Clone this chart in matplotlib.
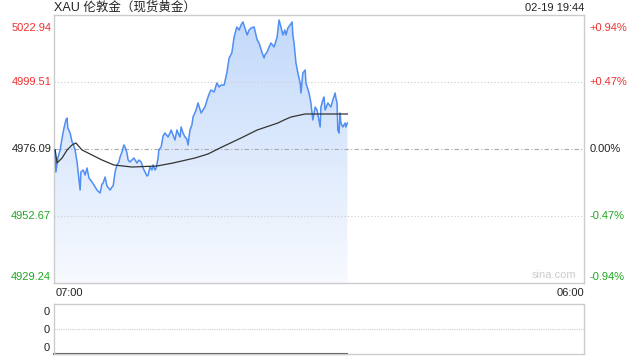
import numpy as np
import matplotlib
matplotlib.use("Agg")
import matplotlib.pyplot as plt

plt.rcParams['font.family'] = ['Liberation Sans', 'Noto Sans CJK SC', 'DejaVu Sans']

# minutes after 07:00, prices
minutes = [3, 5, 10, 16, 21, 26, 31, 34, 36, 42, 47, 49, 55, 60, 65, 68, 70, 76, 81, 86,
           91, 99, 107, 112, 117, 120, 125, 128, 133, 138, 146, 151, 154, 159, 164, 169, 172, 177, 182, 185,
           190, 193, 198, 203, 208, 216, 221, 227, 232, 237, 242, 245, 250, 255, 258, 263, 266, 271, 273, 279,
           284, 289, 297, 302, 305, 310, 315, 320, 323, 328, 331, 336, 341, 346, 349, 354, 359, 362, 370, 375,
           383, 388, 393, 401, 406, 409, 417, 424, 430, 435, 443, 450, 456, 463, 469, 476, 482, 487, 492, 497,
           503, 508, 513, 521, 526, 529, 534, 542, 547, 549, 555, 560, 565, 573, 581, 586, 591, 596, 601, 604,
           609, 615, 620, 622, 625, 630, 635, 641, 643, 648, 654, 656, 664, 669, 674, 680, 685, 693, 695, 700,
           703, 706, 713, 721, 726, 732, 734, 737, 739, 742, 745, 747, 752, 758, 760, 764]
prices = [4975.65, 4967.98, 4972.86, 4975.65, 4979.84, 4983.33, 4986.12, 4986.82, 4983.33, 4981.59,
          4978.45, 4978.10, 4975.65, 4971.47, 4965.18, 4961.69, 4967.98, 4968.67, 4966.93, 4969.37,
          4965.88, 4964.49, 4962.74, 4961.69, 4961.00, 4960.65, 4963.79, 4964.14, 4966.23, 4963.09,
          4961.69, 4962.74, 4963.09, 4967.98, 4970.42, 4971.47, 4973.21, 4974.96, 4977.40, 4976.70,
          4974.61, 4972.16, 4971.47, 4972.16, 4972.86, 4971.12, 4972.16, 4971.47, 4969.37, 4967.98,
          4966.58, 4966.93, 4969.72, 4968.67, 4970.42, 4968.67, 4969.37, 4972.86, 4975.65, 4976.70,
          4980.54, 4981.59, 4980.19, 4981.59, 4982.63, 4980.89, 4979.14, 4982.63, 4981.59, 4980.19,
          4983.68, 4981.59, 4980.19, 4979.49, 4977.40, 4982.63, 4984.38, 4987.17, 4989.61, 4992.06,
          4988.57, 4989.61, 4990.66, 4994.15, 4995.90, 4996.59, 4995.90, 4999.04, 4997.64, 4998.34,
          4998.34, 5002.53, 5007.76, 5009.51, 5015.09, 5018.58, 5017.53, 5019.28, 5020.33, 5018.23,
          5015.79, 5017.53, 5018.23, 5018.58, 5015.79, 5014.04, 5013.00, 5009.51, 5007.76, 5008.81,
          5009.86, 5011.60, 5013.00, 5011.60, 5015.09, 5021.02, 5018.58, 5015.79, 5017.53, 5015.79,
          5018.23, 5019.28, 5020.33, 5015.79, 5013.00, 5006.02, 5002.53, 4999.04, 4995.55, 5002.53,
          5003.57, 4999.04, 4995.55, 4992.06, 4986.12, 4990.66, 4989.61, 4983.68, 4990.66, 4993.10,
          4994.15, 4989.61, 4992.06, 4990.66, 4993.10, 4995.55, 4993.80, 4992.06, 4982.63, 4981.59,
          4988.57, 4985.08, 4983.68, 4985.08, 4983.68, 4985.08]

# average price line
avg_minutes = [3, 8, 21, 34, 47, 57, 73, 99, 125, 156, 203, 268, 310, 367, 401, 432,
               487, 529, 583, 599, 617, 654, 713, 764]
avg_prices = [4975.65, 4971.12, 4972.86, 4975.65, 4977.40, 4978.10, 4975.65, 4973.91, 4972.16,
              4970.42, 4969.72, 4970.07, 4971.12, 4972.86, 4974.26, 4976.35, 4979.84, 4982.63,
              4985.08, 4986.12, 4987.17, 4988.22, 4988.22, 4988.22]

vol_minutes = [0, 764]
volume = [0, 0]

prev_close = 4976.09
price_ticks = [5022.94, 4999.51, 4976.09, 4952.67, 4929.24]
pct_ticks = ["+0.94%", "+0.47%", "0.00%", "-0.47%", "-0.94%"]
tick_colors = ["#f23030", "#f23030", "#222222", "#1fa81f", "#1fa81f"]
title = "XAU 伦敦金（现货黄金）"
stamp = "02-19 19:44"
x_labels = ["07:00", "06:00"]
total_minutes = 1380

fig = plt.figure(figsize=(6.4, 3.6), dpi=100)
ax = fig.add_axes([54 / 640, 1 - 283 / 360, 530 / 640, 268.5 / 360])
ymin, ymax = price_ticks[-1], price_ticks[0]
ax.set_xlim(0, total_minutes)
ax.set_ylim(ymin, ymax)

# gradient fill under the price line
poly = ax.fill_between(minutes, prices, ymin, color="none", lw=0)
grad = np.linspace(0, 1, 256).reshape(-1, 1)
top_c = np.array([0.76, 0.85, 0.98])
bot_c = np.array([0.97, 0.98, 1.0])
img = top_c * (1 - grad[..., None]) + bot_c * grad[..., None]
img = img.reshape(256, 1, 3)
im = ax.imshow(img, extent=[0, total_minutes, ymin, ymax], aspect="auto", origin="upper", zorder=1)
path = poly.get_paths()[0]
im.set_clip_path(path, transform=ax.transData)

ax.plot(minutes, prices, color="#4f8ef2", lw=1.1, zorder=3)
ax.plot(avg_minutes, avg_prices, color="#333333", lw=0.9, zorder=4)

for v in price_ticks[1:4]:
    if v == prev_close:
        ax.axhline(v, color="#aaaaaa", lw=0.8, ls=(0, (4, 2, 1, 2)), zorder=2)
    else:
        ax.axhline(v, color="#cccccc", lw=0.8, ls=(0, (1, 2)), zorder=2)

for s in ax.spines.values():
    s.set_color("#cccccc")
    s.set_linewidth(1)
ax.set_xticks([])
ax.set_yticks([])

for i, (v, p, c) in enumerate(zip(price_ticks, pct_ticks, tick_colors)):
    dy = 0
    if i == 0:
        dy = -10
    elif i == 4:
        dy = 4.3
    ax.annotate(f"{v:.2f}", (0, v), xycoords=("axes fraction", "data"),
                xytext=(-2, dy), textcoords="offset points", ha="right", va="center",
                fontsize=8, color=c)
    ax.annotate(p, (1, v), xycoords=("axes fraction", "data"),
                xytext=(4, dy), textcoords="offset points", ha="left", va="center",
                fontsize=8, color=c)

ax.annotate(title, (0, 1), xycoords="axes fraction", xytext=(0, 2.5), textcoords="offset points",
            ha="left", va="baseline", fontsize=9, color="#222222")
ax.annotate(stamp, (1, 1), xycoords="axes fraction", xytext=(0, 2.5), textcoords="offset points",
            ha="right", va="baseline", fontsize=8, color="#222222")
ax.text(0.985, 0.012, "sina.com", transform=ax.transAxes, ha="right", va="bottom", fontsize=8, color="#cccccc")
ax.text(0.004, -0.02, x_labels[0], transform=ax.transAxes, ha="left", va="top", fontsize=8, color="#222222")
ax.text(1, -0.02, x_labels[1], transform=ax.transAxes, ha="right", va="top", fontsize=8, color="#222222")

# volume panel
vx = fig.add_axes([54 / 640, 1 - 354 / 360, 530 / 640, 50 / 360])
vx.set_xlim(0, total_minutes)
vx.set_ylim(0, 1)
vx.set_xticks([])
vx.set_yticks([])
vx.spines["top"].set_linestyle((0, (1, 1)))
vx.spines["bottom"].set_linestyle((0, (1, 1)))
for s in vx.spines.values():
    s.set_color("#cccccc")
    s.set_linewidth(1)
vx.axhline(0.5, color="#cccccc", lw=0.8, ls=(0, (1, 1)))
vx.plot(vol_minutes, volume, color="#555555", lw=1.5, clip_on=False)
for yv, dy in [(1, -6), (0.5, -0.7), (0, 4.3)]:
    vx.annotate("0", (0, yv), xycoords="axes fraction", xytext=(-3, dy),
                textcoords="offset points", ha="right", va="center", fontsize=8, color="#222222")

fig.savefig("out.png", dpi=100)
